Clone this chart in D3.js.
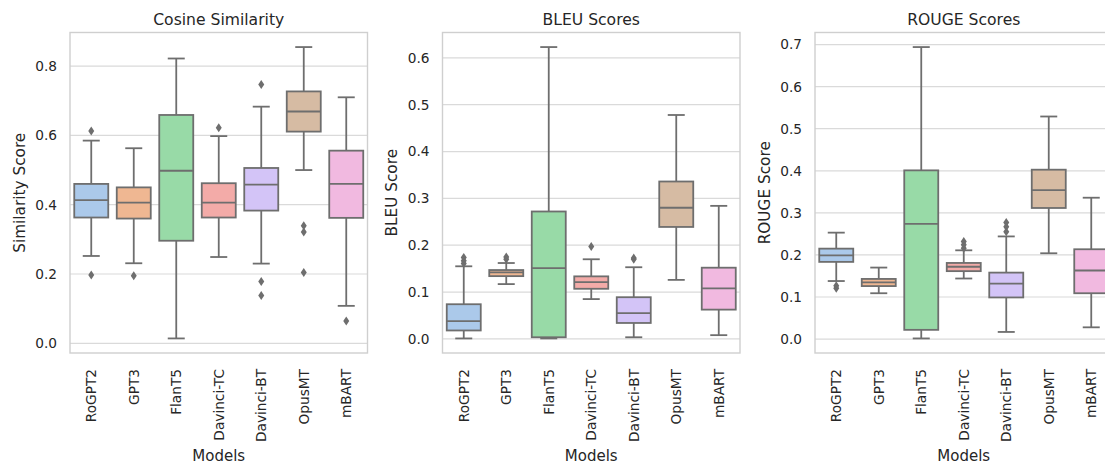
<!DOCTYPE html>
<html>
<head>
<meta charset="utf-8">
<script src="https://cdn.jsdelivr.net/npm/d3@7"></script>
<style>
  html, body { margin: 0; padding: 0; background: #fff; }
  svg { display: block; }
  text { font-family: "DejaVu Sans", sans-serif; fill: #262626; }
</style>
</head>
<body>
<svg id="chart" width="1105" height="465"></svg>
<script>
const models = ["RoGPT2", "GPT3", "FlanT5", "Davinci-TC", "Davinci-BT", "OpusMT", "mBART"];
const palette = ["#a1c9f4", "#ffb482", "#8de5a1", "#ff9f9b", "#d0bbff", "#debb9b", "#fab0e4"];

// [whiskerLow, Q1, median, Q3, whiskerHigh]
const cosineStats = [
  [0.252, 0.363, 0.413, 0.460, 0.585],
  [0.231, 0.360, 0.406, 0.450, 0.563],
  [0.014, 0.296, 0.498, 0.659, 0.822],
  [0.249, 0.363, 0.406, 0.462, 0.598],
  [0.230, 0.383, 0.458, 0.506, 0.683],
  [0.500, 0.611, 0.669, 0.727, 0.855],
  [0.108, 0.362, 0.460, 0.556, 0.710]
];
const cosineOutliers = [
  [0.613, 0.197],
  [0.195],
  [],
  [0.622],
  [0.747, 0.178, 0.138],
  [0.339, 0.321, 0.204],
  [0.064]
];

const bleuStats = [
  [0.001, 0.018, 0.038, 0.074, 0.155],
  [0.117, 0.134, 0.142, 0.147, 0.162],
  [0.001, 0.0035, 0.151, 0.272, 0.623],
  [0.085, 0.107, 0.121, 0.1335, 0.170],
  [0.0035, 0.034, 0.055, 0.089, 0.153],
  [0.126, 0.239, 0.280, 0.336, 0.478],
  [0.008, 0.0625, 0.108, 0.152, 0.284]
];
const bleuOutliers = [
  [0.174, 0.167, 0.161],
  [0.175, 0.170],
  [],
  [0.197],
  [0.1725, 0.170],
  [],
  []
];

const rougeStats = [
  [0.138, 0.1835, 0.199, 0.215, 0.253],
  [0.109, 0.126, 0.135, 0.143, 0.170],
  [0.0016, 0.022, 0.274, 0.401, 0.694],
  [0.144, 0.1615, 0.172, 0.181, 0.211],
  [0.017, 0.099, 0.132, 0.158, 0.244],
  [0.204, 0.3116, 0.354, 0.4026, 0.529],
  [0.028, 0.109, 0.163, 0.2135, 0.336]
];
const rougeOutliers = [
  [0.127, 0.121],
  [],
  [],
  [0.232, 0.224, 0.216],
  [0.277, 0.267, 0.255],
  [],
  []
];

const cosineTicks = [0.0, 0.2, 0.4, 0.6, 0.8];
const bleuTicks = [0.0, 0.1, 0.2, 0.3, 0.4, 0.5, 0.6];
const rougeTicks = [0.0, 0.1, 0.2, 0.3, 0.4, 0.5, 0.6, 0.7];

const panels = [
  { title: "Cosine Similarity", ylabel: "Similarity Score", stats: cosineStats, outliers: cosineOutliers, ticks: cosineTicks },
  { title: "BLEU Scores", ylabel: "BLEU Score", stats: bleuStats, outliers: bleuOutliers, ticks: bleuTicks },
  { title: "ROUGE Scores", ylabel: "ROUGE Score", stats: rougeStats, outliers: rougeOutliers, ticks: rougeTicks }
];

(function draw() {
  const svg = d3.select("#chart");
  const lineColor = "#6e6e6e";
  const gridColor = "#dadada";
  const plotTop = 32.5, plotBottom = 353;
  const panelLefts = [70, 442.5, 815];
  const panelW = 297.5;

  const colors = palette.map(c => { const h = d3.hsl(c); h.s *= 0.75; return h.formatHex(); });

  panels.forEach((p, i) => {
    const left = panelLefts[i];
    const g = svg.append("g");

    const allVals = p.stats.flat().concat(p.outliers.flat());
    const mn = d3.min(allVals), mx = d3.max(allVals);
    const pad = (mx - mn) * 0.05;
    const y = d3.scaleLinear().domain([mn - pad, mx + pad]).range([plotBottom, plotTop]);
    const x = d3.scaleBand().domain(models).range([left, left + panelW]).paddingInner(0).paddingOuter(0);

    // grid
    g.selectAll("line.grid").data(p.ticks).enter().append("line")
      .attr("class", "grid")
      .attr("x1", left).attr("x2", left + panelW)
      .attr("y1", d => y(d)).attr("y2", d => y(d))
      .attr("stroke", gridColor).attr("stroke-width", 1.2);

    // y ticks
    const yAxis = d3.axisLeft(y).tickValues(p.ticks).tickFormat(d3.format(".1f")).tickSize(0).tickPadding(13);
    const ya = g.append("g").attr("transform", `translate(${left},0)`).call(yAxis);
    ya.select(".domain").remove();
    ya.selectAll("text").attr("font-size", "13.7px").attr("fill", "#262626").attr("font-family", "DejaVu Sans");

    // boxes
    const bw = x.bandwidth() * 0.8;
    models.forEach((m, k) => {
      const s = p.stats[k];
      const cx = x(m) + x.bandwidth() / 2;
      const bg = g.append("g");
      bg.append("line").attr("x1", cx).attr("x2", cx).attr("y1", y(s[1])).attr("y2", y(s[0]))
        .attr("stroke", lineColor).attr("stroke-width", 1.8);
      bg.append("line").attr("x1", cx).attr("x2", cx).attr("y1", y(s[3])).attr("y2", y(s[4]))
        .attr("stroke", lineColor).attr("stroke-width", 1.8);
      [s[0], s[4]].forEach(v => {
        bg.append("line").attr("x1", cx - bw / 4).attr("x2", cx + bw / 4).attr("y1", y(v)).attr("y2", y(v))
          .attr("stroke", lineColor).attr("stroke-width", 1.8);
      });
      bg.append("rect").attr("x", cx - bw / 2).attr("width", bw)
        .attr("y", y(s[3])).attr("height", y(s[1]) - y(s[3]))
        .attr("fill", colors[k]).attr("stroke", lineColor).attr("stroke-width", 1.8);
      bg.append("line").attr("x1", cx - bw / 2).attr("x2", cx + bw / 2).attr("y1", y(s[2])).attr("y2", y(s[2]))
        .attr("stroke", lineColor).attr("stroke-width", 1.8);
      p.outliers[k].forEach(v => {
        const yy = y(v);
        bg.append("path")
          .attr("d", `M${cx},${yy - 4.5}L${cx + 3},${yy}L${cx},${yy + 4.5}L${cx - 3},${yy}Z`)
          .attr("fill", lineColor);
      });
    });

    // frame
    g.append("rect").attr("x", left).attr("y", plotTop).attr("width", panelW).attr("height", plotBottom - plotTop)
      .attr("fill", "none").attr("stroke", "#cfcfcf").attr("stroke-width", 1.4);

    // x tick labels
    models.forEach(m => {
      const cx = x(m) + x.bandwidth() / 2;
      g.append("text")
        .attr("transform", `translate(${cx},369) rotate(-90)`)
        .attr("text-anchor", "end")
        .attr("dominant-baseline", "central")
        .attr("font-size", "13.7px")
        .text(m);
    });

    g.append("text").attr("x", left + panelW / 2).attr("y", 24.5).attr("text-anchor", "middle")
      .attr("font-size", "15.6px").text(p.title);
    g.append("text").attr("x", left + panelW / 2).attr("y", 461).attr("text-anchor", "middle")
      .attr("font-size", "15px").text("Models");
    g.append("text").attr("transform", `translate(${left - 45.5},${(plotTop + plotBottom) / 2}) rotate(-90)`)
      .attr("text-anchor", "middle").attr("font-size", "15.3px").text(p.ylabel);
  });
})();
</script>
</body>
</html>
